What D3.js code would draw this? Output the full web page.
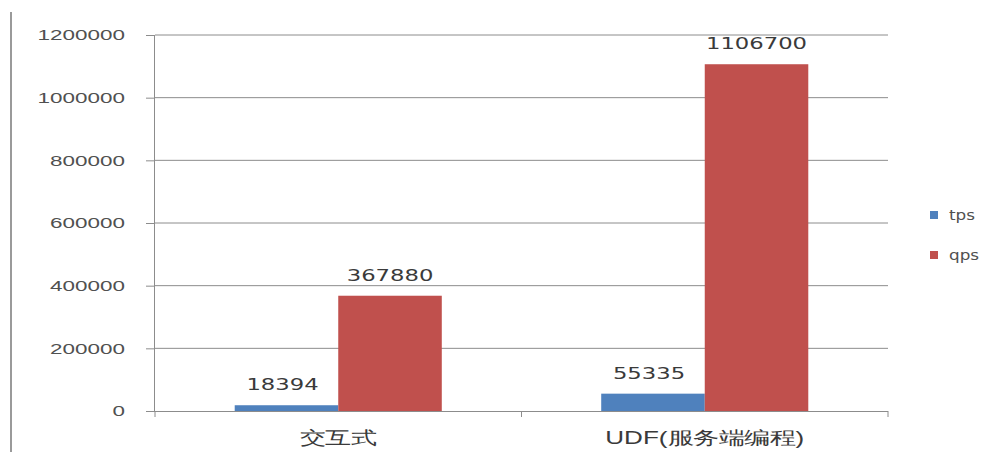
<!DOCTYPE html>
<html>
<head>
<meta charset="utf-8">
<script src="https://cdn.jsdelivr.net/npm/d3@7"></script>
<style>
  html, body { margin: 0; padding: 0; background: #fff; }
  svg { display: block; font-family: "DejaVu Sans", "Noto Sans CJK SC", sans-serif; }
</style>
</head>
<body>
<svg id="chart" width="997" height="452"></svg>
<script>
// Throughput comparison: interactive vs UDF (server-side programming)
const categories = ["交互式", "UDF(服务端编程)"];
const seriesNames = ["tps", "qps"];
const tpsValues = [18394, 55335];
const qpsValues = [367880, 1106700];
const yTicks = [0, 200000, 400000, 600000, 800000, 1000000, 1200000];
const colors = ["#4f81bd", "#c0504d"];

const svg = d3.select("#chart");
const plot = { left: 155, right: 888, top: 35, bottom: 411 };

const x0 = d3.scaleBand().domain(categories).range([plot.left, plot.right]).paddingInner(0.435).paddingOuter(0.2175);
const x1 = d3.scaleBand().domain(seriesNames).range([0, x0.bandwidth()]);
const y = d3.scaleLinear().domain([0, 1200000]).range([plot.bottom, plot.top]);

// wide lettering: stretch a text element horizontally about its anchor
function stretch(sel, sx, dx) {
  sel.attr("x", 0).attr("transform", `translate(${dx},0) scale(${sx},1)`);
}

// outer frame line on the left
svg.append("line").attr("x1", 11).attr("x2", 11).attr("y1", 12).attr("y2", 452)
  .attr("stroke", "#9a9a9a").attr("stroke-width", 2);

// horizontal gridlines
svg.append("g").selectAll("line").data(yTicks.filter(d => d > 0)).join("line")
  .attr("x1", plot.left).attr("x2", plot.right)
  .attr("y1", d => y(d)).attr("y2", d => y(d))
  .attr("stroke", "#8c8c8c").attr("stroke-width", 1);

// y axis
const yAxis = svg.append("g").attr("transform", `translate(${plot.left},0)`)
  .call(d3.axisLeft(y).tickValues(yTicks).tickSize(9).tickPadding(20).tickFormat(d3.format("d")));
yAxis.select(".domain").attr("stroke", "#8c8c8c").attr("d", `M-0.5,${plot.top}V${plot.bottom + 0.5}`);
yAxis.selectAll(".tick line").attr("stroke", "#8c8c8c");
yAxis.selectAll(".tick text").attr("font-size", 15.5).attr("fill", "#505050")
  .call(stretch, 1.45, -30);

// x axis
const xAxis = svg.append("g").attr("transform", `translate(0,${plot.bottom})`)
  .call(d3.axisBottom(x0).tickSize(0).tickPadding(20));
xAxis.select(".domain").attr("stroke", "#8c8c8c").attr("d", `M${plot.left},0.5H${plot.right}`);
xAxis.selectAll(".tick text").attr("font-size", 18).attr("fill", "#3a3a3a")
  .attr("x", 0).attr("transform", "scale(1.45,1)");
// category divider ticks
const dividers = [plot.left, (plot.left + plot.right) / 2, plot.right];
svg.append("g").selectAll("line").data(dividers).join("line")
  .attr("x1", d => d).attr("x2", d => d)
  .attr("y1", plot.bottom).attr("y2", plot.bottom + 6)
  .attr("stroke", "#8c8c8c");

// bars
const rows = categories.map((c, i) => ({ cat: c, values: [tpsValues[i], qpsValues[i]] }));
const groups = svg.append("g").selectAll("g").data(rows).join("g")
  .attr("transform", d => `translate(${x0(d.cat)},0)`);

groups.selectAll("rect").data(d => d.values.map((v, j) => ({ name: seriesNames[j], v, j })))
  .join("rect")
  .attr("x", d => x1(d.name))
  .attr("width", x1.bandwidth())
  .attr("y", d => y(d.v))
  .attr("height", d => y(0) - y(d.v))
  .attr("fill", d => colors[d.j]);

// value labels
groups.selectAll("text.val").data(d => d.values.map((v, j) => ({ name: seriesNames[j], v, j })))
  .join("text").attr("class", "val")
  .attr("x", 0)
  .attr("y", d => y(d.v) - 15)
  .attr("transform", d => `translate(${x1(d.name) + x1.bandwidth() / 2 + (d.j === 0 ? -4 : 0)},0) scale(1.42,1)`)
  .attr("text-anchor", "middle")
  .attr("font-size", 16)
  .attr("fill", "#3a3a3a")
  .text(d => d.v);

// legend
const legend = svg.append("g").attr("transform", "translate(930,211)");
seriesNames.forEach((n, i) => {
  const g = legend.append("g").attr("transform", `translate(0,${i * 40})`);
  g.append("rect").attr("width", 8).attr("height", 8).attr("fill", colors[i]);
  g.append("text").attr("x", 0).attr("y", 9).attr("font-size", 14).attr("fill", "#505050")
    .attr("transform", "translate(19,0) scale(1.2,1)").text(n);
});
</script>
</body>
</html>
